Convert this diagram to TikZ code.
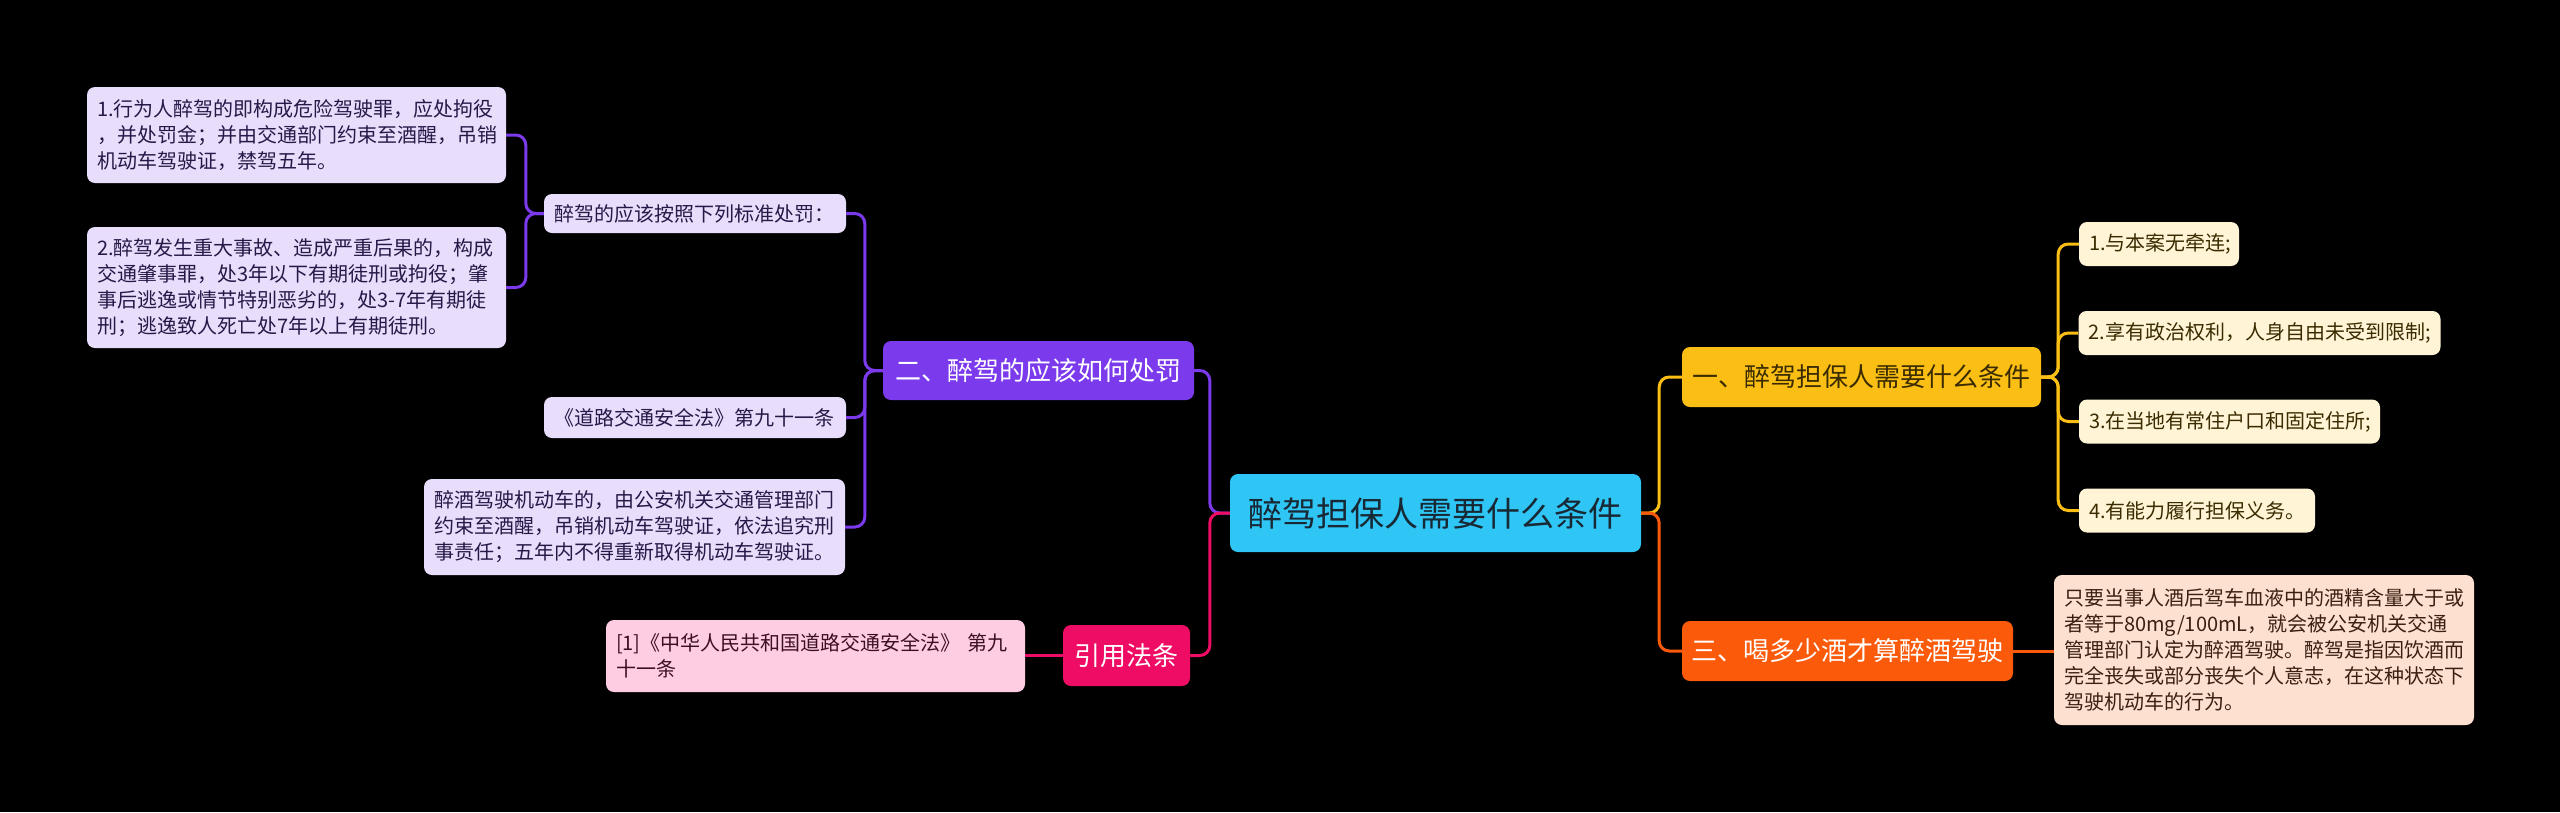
\documentclass[tikz,border=0pt]{standalone}
\usepackage{fontspec}
\setmainfont{Noto Sans CJK SC}
\definecolor{ccyan}{RGB}{47,197,245}
\definecolor{cdark}{RGB}{24,40,52}
\definecolor{cpurple}{RGB}{124,58,237}
\definecolor{cpurpleL}{RGB}{232,222,251}
\definecolor{cpurpleT}{RGB}{40,24,72}
\definecolor{cpink}{RGB}{238,12,100}
\definecolor{cpinkL}{RGB}{255,205,225}
\definecolor{cpinkT}{RGB}{60,16,36}
\definecolor{cyellow}{RGB}{250,190,20}
\definecolor{cyellowL}{RGB}{255,244,214}
\definecolor{cyellowT}{RGB}{58,44,0}
\definecolor{corange}{RGB}{250,90,10}
\definecolor{corangeL}{RGB}{253,224,208}
\definecolor{corangeT}{RGB}{58,32,16}
\begin{document}
\begin{tikzpicture}[x=1pt,y=-1pt,
  box/.style={rounded corners=8pt, inner sep=0pt},
  title/.style={box, font=\fontsize{26}{30}\selectfont, align=center},
  leaf/.style={box, font=\fontsize{20}{26}\selectfont, align=left, inner xsep=10pt},
  pleaf/.style={leaf, fill=cpurpleL, text=cpurpleT},
  yleaf/.style={leaf, fill=cyellowL, text=cyellowT, minimum height=44},
  conn/.style={line width=3pt, rounded corners=10pt}
]
\useasboundingbox (0,0) rectangle (2560,812);
\fill[black] (0,0) rectangle (2560,812);

% central
\node[box, fill=ccyan, text=cdark, minimum width=411, minimum height=78, font=\fontsize{34}{40}\selectfont] (root) at (1435.5,513) {醉驾担保人需要什么条件};

% branch titles
\node[title, fill=cpurple, text=white, minimum width=311, minimum height=59] (two) at (1038.5,370.5) {二、醉驾的应该如何处罚};
\node[title, fill=cpink, text=white, minimum width=127, minimum height=61] (cite) at (1126.5,655.5) {引用法条};
\node[title, fill=cyellow, text=cyellowT, minimum width=359, minimum height=60] (one) at (1861.5,377) {一、醉驾担保人需要什么条件};
\node[title, fill=corange, text=white, minimum width=331, minimum height=60] (three) at (1847.5,651) {三、喝多少酒才算醉酒驾驶};

% purple leaves
\node[pleaf, text width=399, minimum height=96] (p1) at (296.5,135) {1.行为人醉驾的即构成危险驾驶罪，应处拘役\\，并处罚金；并由交通部门约束至酒醒，吊销\\机动车驾驶证，禁驾五年。};
\node[pleaf, text width=399, minimum height=121] (p2) at (296.5,287.5) {2.醉驾发生重大事故、造成严重后果的，构成\\交通肇事罪，处3年以下有期徒刑或拘役；肇\\事后逃逸或情节特别恶劣的，处3-7年有期徒\\刑；逃逸致人死亡处7年以上有期徒刑。};
\node[pleaf, text width=282, minimum height=39] (p3) at (695,213.5) {醉驾的应该按照下列标准处罚：};
\node[pleaf, text width=282, minimum height=41] (p4) at (695,417.5) {《道路交通安全法》第九十一条};
\node[pleaf, text width=401, minimum height=96] (p5) at (634.5,527) {醉酒驾驶机动车的，由公安机关交通管理部门\\约束至酒醒，吊销机动车驾驶证，依法追究刑\\事责任；五年内不得重新取得机动车驾驶证。};

% pink leaf
\node[leaf, fill=cpinkL, text=cpinkT, text width=399, minimum height=72] (pk) at (815.5,656) {[1]《中华人民共和国道路交通安全法》 第九\\十一条};

% yellow leaves
\node[yleaf, text width=140] (y1) at (2159,244) {1.与本案无牵连;};
\node[yleaf, text width=342] (y2) at (2259.5,333) {2.享有政治权利，人身自由未受到限制;};
\node[yleaf, text width=281] (y3) at (2229.5,421.5) {3.在当地有常住户口和固定住所;};
\node[yleaf, text width=216] (y4) at (2197,510.5) {4.有能力履行担保义务。};

% orange leaf
\node[leaf, fill=corangeL, text=corangeT, text width=400, minimum height=150] (desc) at (2264,650) {只要当事人酒后驾车血液中的酒精含量大于或\\者等于80mg/100mL，就会被公安机关交通\\管理部门认定为醉酒驾驶。醉驾是指因饮酒而\\完全丧失或部分丧失个人意志，在这种状态下\\驾驶机动车的行为。};

% connectors
\draw[conn, cpurple] (root.west) -- ++(-20,0) |- (two.east);
\draw[conn, cpink] (root.west) -- ++(-20,0) |- (cite.east);
\draw[conn, cyellow] (root.east) -- ++(18,0) |- (one.west);
\draw[conn, corange] (root.east) -- ++(18,0) |- (three.west);

\foreach \t in {p3,p4,p5} \draw[conn, cpurple] (two.west) -- ++(-18,0) |- (\t.east);
\foreach \t in {p1,p2} \draw[conn, cpurple] (p3.west) -- ++(-18,0) |- (\t.east);
\draw[conn, cpink] (cite.west) -- (cite.west -| pk.east);
\foreach \t in {y1,y2,y3,y4} \draw[conn, cyellow] (one.east) -- ++(17,0) |- (\t.west);
\draw[conn, corange] (three.east) -- (three.east -| desc.west);
\end{tikzpicture}
\end{document}
